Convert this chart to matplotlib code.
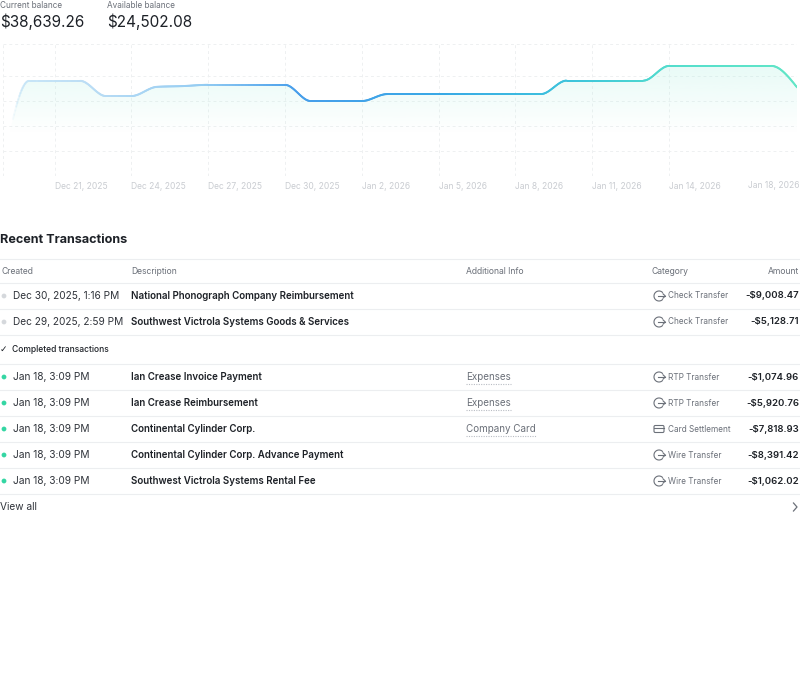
import datetime
import numpy as np
import matplotlib
matplotlib.use('Agg')
import matplotlib.pyplot as plt
import matplotlib.dates as mdates
from matplotlib.collections import LineCollection
from matplotlib.colors import LinearSegmentedColormap
from matplotlib.patches import Circle, Arc, FancyBboxPatch, Polygon

plt.rcParams['font.family'] = ['Inter', 'DejaVu Sans']

W, H = 800, 697

# ---- data ----
current_balance = '$38,639.26'
available_balance = '$24,502.08'

days = ['2025-12-19', '2025-12-20', '2025-12-21', '2025-12-22', '2025-12-23', '2025-12-24',
        '2025-12-25', '2025-12-26', '2025-12-27', '2025-12-28', '2025-12-29', '2025-12-30',
        '2025-12-31', '2026-01-01', '2026-01-02', '2026-01-03', '2026-01-04', '2026-01-05',
        '2026-01-06', '2026-01-07', '2026-01-08', '2026-01-09', '2026-01-10', '2026-01-11',
        '2026-01-12', '2026-01-13', '2026-01-14', '2026-01-15', '2026-01-16', '2026-01-17',
        '2026-01-18', '2026-01-19']
balance = [5200, 38200, 38200, 38200, 32100, 32100,
           35800, 36100, 36600, 36600, 36600, 36600,
           30100, 30100, 30100, 32900, 32900, 32900,
           32900, 32900, 32900, 32900, 38300, 38300,
           38300, 38300, 44200, 44200, 44200, 44200,
           44200, 35600]

tick_days = ['2025-12-21', '2025-12-24', '2025-12-27', '2025-12-30', '2026-01-02',
             '2026-01-05', '2026-01-08', '2026-01-11', '2026-01-14']
tick_labels = ['Dec 21, 2025', 'Dec 24, 2025', 'Dec 27, 2025', 'Dec 30, 2025', 'Jan 2, 2026',
               'Jan 5, 2026', 'Jan 8, 2026', 'Jan 11, 2026', 'Jan 14, 2026']
last_label = 'Jan 18, 2026'

pending_created = ['Dec 30, 2025, 1:16 PM', 'Dec 29, 2025, 2:59 PM']
pending_desc = ['National Phonograph Company Reimbursement', 'Southwest Victrola Systems Goods & Services']
pending_info = ['', '']
pending_cat = ['Check Transfer', 'Check Transfer']
pending_amount = ['-$9,008.47', '-$5,128.71']

done_created = ['Jan 18, 3:09 PM'] * 5
done_desc = ['Ian Crease Invoice Payment', 'Ian Crease Reimbursement', 'Continental Cylinder Corp.',
             'Continental Cylinder Corp. Advance Payment', 'Southwest Victrola Systems Rental Fee']
done_info = ['Expenses', 'Expenses', 'Company Card', '', '']
done_cat = ['RTP Transfer', 'RTP Transfer', 'Card Settlement', 'Wire Transfer', 'Wire Transfer']
done_amount = ['-$1,074.96', '-$5,920.76', '-$7,818.93', '-$8,391.42', '-$1,062.02']

DARK = '#1d2127'
TEXT = '#30343b'
GRAY = '#6b7079'
LIGHT = '#c9ccd1'
RULE = '#eceef0'
GRID = '#eef0f1'


def monotone_curve(xs, ys, steps=24):
    # same shape as a d3 monotoneX curve
    xs = np.asarray(xs, float)
    ys = np.asarray(ys, float)
    h = np.diff(xs)
    s = np.diff(ys) / h
    n = len(xs)
    t = np.zeros(n)
    for i in range(1, n - 1):
        s0, s1 = s[i - 1], s[i]
        p = (s0 * h[i] + s1 * h[i - 1]) / (h[i - 1] + h[i])
        t[i] = (np.sign(s0) + np.sign(s1)) * min(abs(s0), abs(s1), 0.5 * abs(p))
    t[0] = (3 * s[0] - t[1]) / 2
    t[-1] = (3 * s[-1] - t[-2]) / 2
    px, py = [], []
    u = np.linspace(0, 1, steps, endpoint=False)
    for i in range(n - 1):
        h00 = 2 * u**3 - 3 * u**2 + 1
        h10 = u**3 - 2 * u**2 + u
        h01 = -2 * u**3 + 3 * u**2
        h11 = u**3 - u**2
        px.append(xs[i] + u * h[i])
        py.append(h00 * ys[i] + h10 * h[i] * t[i] + h01 * ys[i + 1] + h11 * h[i] * t[i + 1])
    px.append([xs[-1]])
    py.append([ys[-1]])
    return np.concatenate(px), np.concatenate(py)


fig = plt.figure(figsize=(W / 100, H / 100), dpi=100)
fig.patch.set_facecolor('white')

# page layer in pixel units
pg = fig.add_axes([0, 0, 1, 1])
pg.set_xlim(0, W)
pg.set_ylim(H, 0)
pg.axis('off')

# ---- chart ----
x0_px, x1_px, top_px, bot_px = 3.4, 797, 44, 176
ax = fig.add_axes([x0_px / W, 1 - bot_px / H, (x1_px - x0_px) / W, (bot_px - top_px) / H])
ax.patch.set_alpha(0)
for sp in ax.spines.values():
    sp.set_visible(False)

xd = mdates.date2num([datetime.date.fromisoformat(d) for d in days])
ymax = 53000
ax.set_xlim(xd[0], xd[-1])
ax.set_ylim(0, ymax)

# grid
for v in [10000, 20000, 30000, 40000, ymax]:
    ax.axhline(v, color=GRID, lw=0.7, ls=(0, (3, 3)), zorder=0)
ax.axhline(0, color=GRID, lw=0.7, zorder=0)
ax.axvline(xd[0], color=GRID, lw=0.7, ls=(0, (3, 3)), zorder=0)
txd = mdates.date2num([datetime.date.fromisoformat(d) for d in tick_days])
for tx in txd:
    ax.axvline(tx, color=GRID, lw=0.7, ls=(0, (3, 3)), zorder=0)

cx, cy = monotone_curve(xd, balance)

# gradient fill under the line
fill_rgb = np.array([175, 240, 226]) / 255
grad = np.zeros((200, 1, 4))
grad[:, 0, :3] = fill_rgb
yy = np.linspace(ymax, 0, 200)
grad[:, 0, 3] = np.clip((yy - 17000) / (ymax - 17000), 0, 1) * 0.38
img = ax.imshow(grad, extent=[xd[0], xd[-1], 0, ymax], aspect='auto', origin='upper', zorder=1)
clip = Polygon(np.column_stack([np.r_[cx, cx[-1], cx[0]], np.r_[cy, 0, 0]]),
               closed=True, transform=ax.transData, facecolor='none', edgecolor='none')
ax.add_patch(clip)
img.set_clip_path(clip)

# gradient line
line_cmap = LinearSegmentedColormap.from_list('bal', [
    (0.000, (0.80, 0.91, 0.97, 0.0)),
    (0.009, (0.80, 0.91, 0.97, 0.0)),
    (0.022, (0.78, 0.90, 0.97, 0.8)),
    (0.10, (0.74, 0.87, 0.96, 1.0)),
    (0.25, (0.58, 0.80, 0.95, 1.0)),
    (0.37, (0.28, 0.62, 0.92, 1.0)),
    (0.55, (0.22, 0.66, 0.90, 1.0)),
    (0.72, (0.24, 0.77, 0.86, 1.0)),
    (0.85, (0.33, 0.87, 0.80, 1.0)),
    (1.00, (0.38, 0.90, 0.78, 1.0)),
])
pts = np.column_stack([cx, cy]).reshape(-1, 1, 2)
segs = np.concatenate([pts[:-1], pts[1:]], axis=1)
frac = ((cx[:-1] + cx[1:]) / 2 - xd[0]) / (xd[-1] - xd[0])
lc = LineCollection(segs, colors=line_cmap(frac), linewidths=1.4, capstyle='round', zorder=3)
ax.add_collection(lc)

ax.set_xticks(txd)
ax.set_xticklabels(tick_labels, ha='left', fontsize=6.1, color=LIGHT)
ax.tick_params(axis='x', length=0, pad=4)
ax.set_yticks([])
pg.text(800, 185.5, last_label, ha='right', va='center', fontsize=6.1, color=LIGHT)

# ---- header ----
pg.text(0, 5, 'Current balance', fontsize=5.9, color=GRAY, va='center')
pg.text(107, 5, 'Available balance', fontsize=5.9, color=GRAY, va='center')
pg.text(0, 22, current_balance, fontsize=11, color=DARK, va='center')
pg.text(107, 22, available_balance, fontsize=11, color=DARK, va='center')

# ---- transactions ----
pg.text(0, 240, 'Recent Transactions', fontsize=9.1, color=DARK, va='center', fontweight='bold')

for yl in [259, 283, 309, 335, 364, 390, 416, 442, 468, 494]:
    pg.plot([0, W], [yl, yl], color=RULE, lw=0.8)

hy = 271
pg.text(1, hy, 'Created', fontsize=6.2, color=GRAY, va='center')
pg.text(131, hy, 'Description', fontsize=6.2, color=GRAY, va='center')
pg.text(466, hy, 'Additional Info', fontsize=6.2, color=GRAY, va='center')
pg.text(651, hy, 'Category', fontsize=6.2, color=GRAY, va='center')
pg.text(799, hy, 'Amount', fontsize=6.2, color=GRAY, va='center', ha='right')

renderer = fig.canvas.get_renderer()


def draw_icon(kind, y):
    if kind == 'Card Settlement':
        pg.add_patch(FancyBboxPatch((654, y - 3.5), 10, 7, boxstyle='round,pad=0,rounding_size=1.3',
                                    fill=False, ec=GRAY, lw=0.8))
        pg.plot([654, 664], [y - 1, y - 1], color=GRAY, lw=0.8)
    else:
        pg.add_patch(Arc((659, y), 10, 10, theta1=40, theta2=320, ec=GRAY, lw=0.8))
        pg.plot([658, 665], [y, y], color=GRAY, lw=0.8)
        pg.plot([663, 665.3, 663], [y - 2.2, y, y + 2.2], color=GRAY, lw=0.8)


def draw_row(y, created, desc, info, cat, amount, dot):
    pg.add_patch(Circle((4, y), 2.4, color=dot, lw=0))
    pg.text(13, y, created, fontsize=7.3, color=TEXT, va='center')
    pg.text(131, y, desc, fontsize=7.0, color=DARK, va='center', fontweight='semibold')
    if info:
        t = pg.text(466, y, info, fontsize=7.1, color=GRAY, va='center')
        wpx = t.get_window_extent(renderer).width
        pg.plot([466, 466 + wpx], [y + 7, y + 7], color='#b9bdc4', lw=0.8, ls=(0, (1, 1.2)))
    draw_icon(cat, y)
    pg.text(668, y, cat, fontsize=5.9, color=GRAY, va='center')
    pg.text(799, y, amount, fontsize=6.9, color=DARK, va='center', ha='right', fontweight='semibold')


for i, y in enumerate([296, 322]):
    draw_row(y, pending_created[i], pending_desc[i], pending_info[i], pending_cat[i],
             pending_amount[i], '#d5d8dc')

pg.text(-0.5, 349, '\u2713', fontsize=6.5, color=DARK, va='center', family=['DejaVu Sans'])
pg.text(12, 349, 'Completed transactions', fontsize=6.1, color=DARK, va='center', fontweight='medium')

for i, y in enumerate([377, 403, 429, 455, 481]):
    draw_row(y, done_created[i], done_desc[i], done_info[i], done_cat[i],
             done_amount[i], '#34d6a3')

pg.text(0, 507, 'View all', fontsize=7.3, color=TEXT, va='center')
pg.plot([793.5, 797, 793.5], [503, 507, 511], color=GRAY, lw=0.9)

fig.savefig('out.png', dpi=100, facecolor='white')
